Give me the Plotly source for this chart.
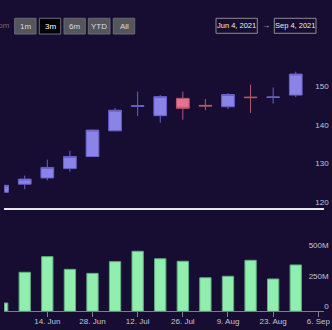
import plotly.graph_objects as go

# ---- data (weekly grouped) ----
weeks = ["2021-05-31", "2021-06-07", "2021-06-14", "2021-06-21", "2021-06-28", "2021-07-05",
         "2021-07-12", "2021-07-19", "2021-07-26", "2021-08-02", "2021-08-09", "2021-08-16",
         "2021-08-23", "2021-08-30"]
opens  = [123.9, 126.0, 127.6, 130.0, 133.1, 139.7, 146.0, 143.6, 148.05, 146.25, 145.9, 148.38, 148.3, 148.9]
highs  = [125.8, 128.2, 132.3, 134.6, 140.0, 145.6, 149.8, 148.9, 149.8, 147.9, 149.4, 151.6, 150.85, 154.9]
lows   = [123.8, 124.7, 127.0, 129.2, 133.0, 139.6, 143.5, 141.8, 142.55, 145.0, 145.3, 144.3, 146.7, 148.4]
closes = [125.7, 127.3, 130.3, 133.1, 139.9, 145.0, 146.15, 148.5, 145.5, 146.1, 149.05, 148.25, 148.4, 154.3]
volumes = [68e6, 320e6, 448e6, 344e6, 311e6, 407e6, 492e6, 431e6, 410e6, 275e6, 287e6, 418e6, 265e6, 380e6]

price_ticks = [120, 130, 140, 150]
vol_ticks = [0, 250e6, 500e6]
vol_tick_text = ["0", "250M", "500M"]
date_ticks = ["2021-06-14", "2021-06-28", "2021-07-12", "2021-07-26", "2021-08-09", "2021-08-23", "2021-09-06"]
date_tick_text = ["14. Jun", "28. Jun", "12. Jul", "26. Jul", "9. Aug", "23. Aug", "6. Sep"]
buttons = ["1m", "3m", "6m", "YTD", "All"]
selected_button = "3m"
range_from, range_to = "Jun 4, 2021", "Sep 4, 2021"

W, H = 332, 330
BG = "#170d33"
FONT = "Liberation Sans"
LABEL = "#c4c4d0"

def px(x):
    return x / W

def py(y):
    return 1 - y / H

fig = go.Figure()
fig.add_trace(go.Candlestick(
    x=weeks, open=opens, high=highs, low=lows, close=closes,
    increasing=dict(fillcolor="#8a83e8", line=dict(color="#6a60cc", width=1)),
    decreasing=dict(fillcolor="#e8718c", line=dict(color="#b8566f", width=1)),
    whiskerwidth=0, xaxis="x", yaxis="y", showlegend=False,
))
fig.add_trace(go.Bar(
    x=weeks, y=volumes, width=3.5 * 86400000,
    marker=dict(color="#90eeae", line=dict(color="#5fae7c", width=1)),
    xaxis="x2", yaxis="y2", showlegend=False,
))

xr = ["2021-05-31 16:00", "2021-09-07 16:00"]
xdom = [px(4.3), px(323.7)]

fig.update_layout(
    width=W, height=H, margin=dict(l=0, r=0, t=0, b=0, autoexpand=False),
    paper_bgcolor=BG, plot_bgcolor=BG,
    boxgap=0.437, boxgroupgap=0,
    font=dict(family=FONT, size=8, color=LABEL),
    xaxis=dict(domain=xdom, range=xr, type="date", anchor="y", automargin=False,
               showticklabels=False, showgrid=False, zeroline=False,
               showline=True, linecolor="#e8e8f2", linewidth=2, ticks="",
               rangeslider=dict(visible=False)),
    xaxis2=dict(domain=xdom, range=xr, type="date", anchor="y2", matches="x", automargin=False,
                showgrid=False, zeroline=False, showline=True, linecolor="#7c7c8c", linewidth=1,
                ticks="outside", ticklen=5, tickcolor="#7c7c8c", tickwidth=1,
                ticklabelstandoff=-3, ticklabeloverflow="allow",
                tickvals=date_ticks, ticktext=date_tick_text,
                tickfont=dict(family=FONT, size=8, color=LABEL)),
    yaxis=dict(domain=[py(207.5), py(51.9)], range=[120, 160], anchor="x", side="right",
               automargin=False,
               showgrid=False, zeroline=False, showline=False, ticks="",
               ticklabelposition="inside", ticklabelshift=-5, ticklabelstandoff=-8,
               ticklabeloverflow="allow",
               tickvals=price_ticks, tickfont=dict(family=FONT, size=8, color=LABEL)),
    yaxis2=dict(domain=[py(311.3), py(219.8)], range=[0, 750e6], anchor="x2", side="right",
                automargin=False,
                showgrid=False, zeroline=False, showline=False, ticks="",
                ticklabelposition="inside", ticklabelshift=-5, ticklabelstandoff=-8,
                ticklabeloverflow="allow",
                tickvals=vol_ticks, ticktext=vol_tick_text,
                tickfont=dict(family=FONT, size=8, color=LABEL)),
)

shapes = []
ann = []
ann.append(dict(text="Zoom", x=px(12), y=py(26), xref="paper", yref="paper",
                xanchor="right", yanchor="middle", showarrow=False,
                font=dict(family=FONT, size=8, color="#6a6a78")))
btn_boxes = [(14.7, 36.0), (39.3, 60.7), (64.0, 85.3), (88.3, 110.0), (113.3, 134.7)]
for b, (x0, x1) in zip(buttons, btn_boxes):
    sel = b == selected_button
    shapes.append(dict(type="rect", xref="paper", yref="paper",
                       x0=px(x0), x1=px(x1), y0=py(34), y1=py(18.3),
                       fillcolor="#000000" if sel else "#55555c",
                       line=dict(color="#6e6e76" if sel else "#6a6a72", width=1)))
    ann.append(dict(text=b, x=px((x0 + x1) / 2), y=py(26.2), xref="paper", yref="paper",
                    xanchor="center", yanchor="middle", showarrow=False,
                    font=dict(family=FONT, size=8, color="#ffffff" if sel else "#dcdcdc")))
for t, (x0, x1) in [(range_from, (216.0, 257.3)), (range_to, (274.3, 316.0))]:
    shapes.append(dict(type="rect", xref="paper", yref="paper",
                       x0=px(x0), x1=px(x1), y0=py(33.3), y1=py(18.3),
                       fillcolor=BG, line=dict(color="#8a8a90", width=1)))
    ann.append(dict(text=t, x=px((x0 + x1) / 2), y=py(25.9), xref="paper", yref="paper",
                    xanchor="center", yanchor="middle", showarrow=False,
                    font=dict(family=FONT, size=7.5, color="#f0f0d4")))
ann.append(dict(text="→", x=px(266), y=py(25.8), xref="paper", yref="paper",
                xanchor="center", yanchor="middle", showarrow=False,
                font=dict(family=FONT, size=8, color="#d0d0d8")))
fig.update_layout(annotations=ann, shapes=shapes)

fig.write_html("out.html")
